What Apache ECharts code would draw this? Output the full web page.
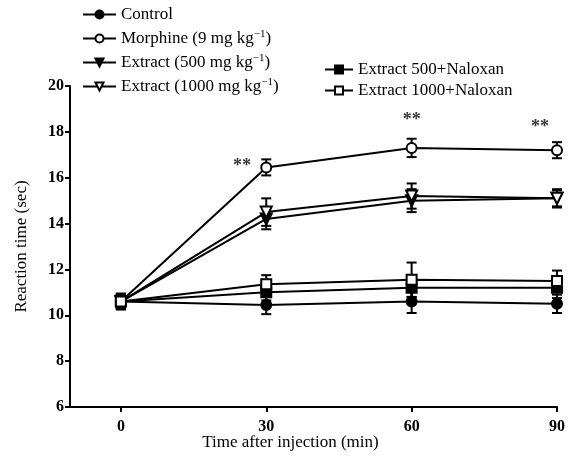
<!DOCTYPE html>
<html>
<head>
<meta charset="utf-8">
<title>Reaction time</title>
<script src="https://cdn.jsdelivr.net/npm/echarts@6/dist/echarts.min.js"></script>
</head>
<body style="margin:0;background:#fff">
<div id="main" style="width:569px;height:468px;"></div>
<script type="text/javascript">
// time points (min)
var times = [0, 30, 60, 90];

// mean reaction time (sec) and error
var control = [10.6, 10.45, 10.6, 10.5];
var controlErr = [0.35, 0.4, 0.5, 0.4];
var morphine = [10.6, 16.45, 17.3, 17.2];
var morphineErr = [0.3, 0.35, 0.4, 0.35];
var ext500 = [10.6, 14.2, 15.0, 15.1];
var ext500Err = [0.3, 0.45, 0.5, 0.35];
var ext1000 = [10.6, 14.5, 15.2, 15.1];
var ext1000Err = [0.3, 0.6, 0.55, 0.4];
var nal500 = [10.6, 11.0, 11.2, 11.2];
var nal500Err = [0.3, 0.35, 0.4, 0.45];
var nal1000 = [10.6, 11.35, 11.55, 11.5];
var nal1000Err = [0.3, 0.4, 0.75, 0.45];

// significance marks (x, y)
var sigMarks = [[25, 16.5], [60, 18.5], [86.5, 18.2]];

var font = 'Liberation Serif';
var myChart = echarts.init(document.getElementById('main'));

var groups = [
  { name: 'Control', vals: control, err: controlErr, symbol: 'circle', fill: '#000', rot: 0 },
  { name: 'Morphine', vals: morphine, err: morphineErr, symbol: 'circle', fill: '#fff', rot: 0 },
  { name: 'Extract500', vals: ext500, err: ext500Err, symbol: 'triangle', fill: '#000', rot: 180 },
  { name: 'Extract1000', vals: ext1000, err: ext1000Err, symbol: 'triangle', fill: '#fff', rot: 180 },
  { name: 'Nal500', vals: nal500, err: nal500Err, symbol: 'rect', fill: '#000', rot: 0 },
  { name: 'Nal1000', vals: nal1000, err: nal1000Err, symbol: 'rect', fill: '#fff', rot: 0 }
];

var legendNames = {
  Control: 'Control',
  Morphine: 'Morphine (9 mg kg{sup|−1})',
  Extract500: 'Extract (500 mg kg{sup|−1})',
  Extract1000: 'Extract (1000 mg kg{sup|−1})',
  Nal500: 'Extract 500+Naloxan',
  Nal1000: 'Extract 1000+Naloxan'
};

var series = [];
groups.forEach(function (g) {
  var errData = times.map(function (t, i) { return [t, g.vals[i] - g.err[i], g.vals[i] + g.err[i]]; });
  series.push({
    type: 'custom',
    z: 1,
    silent: true,
    data: errData,
    renderItem: function (params, api) {
      var lo = api.coord([api.value(0), api.value(1)]);
      var hi = api.coord([api.value(0), api.value(2)]);
      var w = 5;
      var st = { stroke: '#000', lineWidth: 2 };
      return {
        type: 'group',
        children: [
          { type: 'line', shape: { x1: lo[0], y1: lo[1], x2: hi[0], y2: hi[1] }, style: st },
          { type: 'line', shape: { x1: lo[0] - w, y1: lo[1], x2: lo[0] + w, y2: lo[1] }, style: st },
          { type: 'line', shape: { x1: hi[0] - w, y1: hi[1], x2: hi[0] + w, y2: hi[1] }, style: st }
        ]
      };
    }
  });
  series.push({
    name: g.name,
    type: 'line',
    z: 3,
    data: times.map(function (t, i) { return [t, g.vals[i]]; }),
    symbol: g.symbol,
    symbolSize: g.symbol === 'triangle' ? 11 : 10,
    symbolRotate: g.rot,
    showAllSymbol: true,
    lineStyle: { color: '#000', width: 2 },
    itemStyle: { color: g.fill, borderColor: '#000', borderWidth: 2 }
  });
});

series.push({
  type: 'scatter',
  z: 4,
  symbolSize: 0,
  data: sigMarks,
  label: {
    show: true,
    position: 'inside',
    formatter: '**',
    color: '#000',
    fontFamily: font,
    fontWeight: 'bold',
    fontSize: 18
  }
});

var legendText = {
  fontFamily: font,
  fontSize: 17,
  color: '#000',
  rich: { sup: { fontFamily: font, fontSize: 11, verticalAlign: 'top', padding: [0, 0, 8, 0], color: '#000' } }
};

option = {
  backgroundColor: '#fff',
  animation: false,
  legend: [
    {
      data: ['Control', 'Morphine', 'Extract500', 'Extract1000'],
      orient: 'vertical',
      left: 77,
      top: 1,
      itemWidth: 33,
      itemHeight: 10,
      itemGap: 6,
      textStyle: legendText,
      formatter: function (n) { return legendNames[n]; }
    },
    {
      data: ['Nal500', 'Nal1000'],
      orient: 'vertical',
      left: 319,
      top: 56,
      itemWidth: 28,
      itemHeight: 10,
      itemGap: 4,
      textStyle: legendText,
      formatter: function (n) { return legendNames[n]; }
    }
  ],
  grid: { left: 70, right: 12, top: 86, bottom: 61 },
  xAxis: {
    type: 'value',
    min: -10.5,
    max: 90,
    name: 'Time after injection (min)',
    nameLocation: 'middle',
    nameGap: 27,
    nameMoveOverlap: false,
    nameTextStyle: { fontFamily: font, fontSize: 17, color: '#000', padding: [0, 46, 0, 0] },
    splitLine: { show: false },
    axisLine: { onZero: false, lineStyle: { color: '#000', width: 2 } },
    axisTick: { customValues: times, length: 5, lineStyle: { color: '#000', width: 2 } },
    axisLabel: { customValues: times, fontFamily: font, fontSize: 16, fontWeight: 'bold', color: '#000', margin: 12 }
  },
  yAxis: {
    type: 'value',
    min: 6,
    max: 20,
    interval: 2,
    name: 'Reaction time (sec)',
    nameLocation: 'middle',
    nameGap: 40,
    nameTextStyle: { fontFamily: font, fontSize: 17, color: '#000' },
    splitLine: { show: false },
    axisLine: { show: true, onZero: false, lineStyle: { color: '#000', width: 2 } },
    axisTick: { show: true, length: 5, lineStyle: { color: '#000', width: 2 } },
    axisLabel: { fontFamily: font, fontSize: 16, fontWeight: 'bold', color: '#000', margin: 6 }
  },
  series: series
};

myChart.setOption(option);
</script>
</body>
</html>
